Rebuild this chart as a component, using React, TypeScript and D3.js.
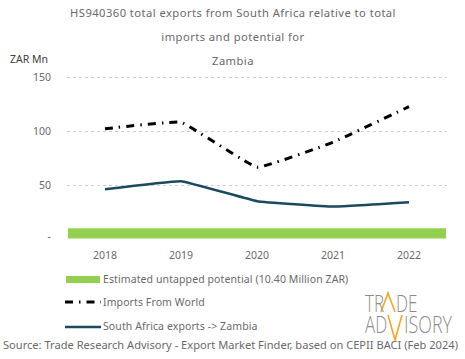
import React from "react";
import * as d3 from "d3";

const years = ["2018", "2019", "2020", "2021", "2022"];
const importsWorld = [102.5, 108.5, 67, 90, 123];
const saExports = [46.5, 54, 35.5, 30.5, 34.5];
const potential = 10.4;
const yTicks = [0, 50, 100, 150];
const titleLines = [
  "HS940360 total exports from South Africa relative  to total",
  "imports and potential  for",
  "Zambia",
];
const legendLabels = [
  "Estimated untapped potential (10.40 Million ZAR)",
  "Imports From World",
  "South Africa exports -> Zambia",
];
const sourceText =
  "Source: Trade Research Advisory - Export Market Finder, based on CEPII BACI (Feb 2024)";

const W = 465;
const H = 359;
const FONT = "'Noto Sans', sans-serif";
const TXT = "#6a6a6a";

export default function App() {
  const x = d3.scaleBand<string>().domain(years).range([67, 447]).paddingInner(0).paddingOuter(0);
  const y = d3.scaleLinear().domain([0, 150]).range([239.5, 77.5]);
  const cx = (yr: string) => (x(yr) as number) + x.bandwidth() / 2;

  const line = d3
    .line<number>()
    .x((_, i) => cx(years[i]))
    .y((d) => y(d))
    .curve(d3.curveCardinal.tension(0.75));

  return (
    <svg width={W} height={H} style={{ position: "absolute", left: 0, top: 0, background: "#fff" }}>
      {titleLines.map((t, i) => (
        <text key={i} x={233} y={17 + i * 24} textAnchor="middle" fontFamily={FONT} fontSize={11.2} letterSpacing={0.45} fill={TXT}>
          {t}
        </text>
      ))}
      <text x={10} y={63} fontFamily={FONT} fontSize={10.5} fill="#404040">ZAR Mn</text>
      {yTicks.map((t) => (
        <g key={t}>
          {t > 0 && (
            <line x1={67} x2={447} y1={y(t)} y2={y(t)} stroke="#d0d0d0" strokeWidth={1} strokeDasharray="3 3" />
          )}
          <text x={51} y={y(t) + (t === 0 ? 0 : 3.5)} textAnchor="end" fontFamily={FONT} fontSize={10.5} fill={TXT}>
            {t === 0 ? "-" : t}
          </text>
        </g>
      ))}
      <rect x={x.range()[0] + 1} width={x.range()[1] - x.range()[0] - 2} y={y(potential)} height={y(0) - y(potential) - 1} fill="#92D050" />
      <path d={line(saExports) || ""} fill="none" stroke="#1B4A5E" strokeWidth={2.5} />
      <path d={line(importsWorld) || ""} fill="none" stroke="#000" strokeWidth={3} strokeDasharray="8 6 1.5 6" />
      {years.map((yr) => (
        <text key={yr} x={cx(yr)} y={259} textAnchor="middle" fontFamily={FONT} fontSize={10.5} fill={TXT}>
          {yr}
        </text>
      ))}
      {/* legend */}
      <rect x={66} y={276} width={34} height={7} fill="#92D050" />
      <text x={103} y={282.5} fontFamily={FONT} fontSize={10.5} letterSpacing={0.1} fill={TXT}>{legendLabels[0]}</text>
      <line x1={65} x2={101} y1={302} y2={302} stroke="#000" strokeWidth={3} strokeDasharray="8 6 1.5 6" />
      <text x={103} y={305.5} fontFamily={FONT} fontSize={10.5} letterSpacing={0.1} fill={TXT}>{legendLabels[1]}</text>
      <line x1={65} x2={101} y1={327} y2={327} stroke="#1B4A5E" strokeWidth={2.5} />
      <text x={103} y={330} fontFamily={FONT} fontSize={10.5} letterSpacing={0.1} fill={TXT}>{legendLabels[2]}</text>
      {/* logo */}
      <g fontFamily="'Open Sans', sans-serif" fontWeight={300} fill="#8c8c8c" fontSize={17}>
        <g transform="translate(365,312) scale(1,1.35)">
          <text x={0} y={0}>TR</text>
          <text x={31} y={0}>DE</text>
        </g>
        <path d="M381,312 L388,293 L395,312" fill="none" stroke="#F5A623" strokeWidth={1.6} />
        <g transform="translate(365,333) scale(1,1.35)">
          <text x={0} y={0}>AD</text>
          <text x={39} y={0} textLength={48} lengthAdjust="spacingAndGlyphs">ISORY</text>
        </g>
        <path d="M388,315 L395,340 L402,315" fill="none" stroke="#F5A623" strokeWidth={1.6} />
      </g>
      <text x={3} y={349} fontFamily={FONT} fontSize={10.5} fill={TXT} textLength={455} lengthAdjust="spacingAndGlyphs">
        {sourceText}
      </text>
    </svg>
  );
}
